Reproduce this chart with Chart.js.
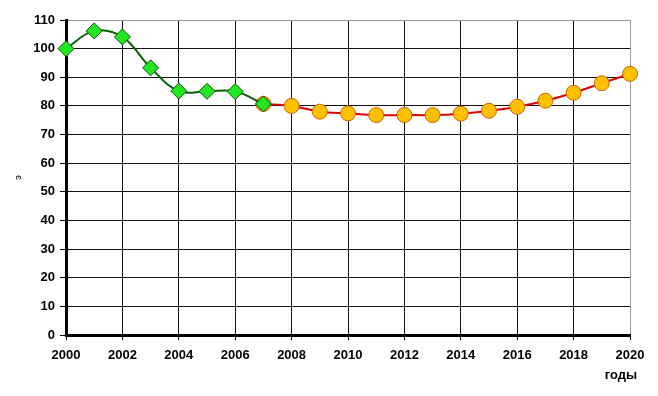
<!DOCTYPE html>
<html>
<head>
<meta charset="utf-8">
<script src="https://cdn.jsdelivr.net/npm/chart.js@4/dist/chart.umd.min.js"></script>
<style>
  html, body { margin: 0; padding: 0; background: #fff; }
  #wrap { width: 658px; height: 396px; }
</style>
</head>
<body>
<div id="wrap"><canvas id="demoChart"></canvas></div>
<script>
// actual values (green) and forecast (orange)
var actualYears = [2000, 2001, 2002, 2003, 2004, 2005, 2006, 2007];
var actualValues = [100, 106.2, 104.1, 93.3, 85.2, 85.1, 85.0, 80.7];
var forecastYears = [2007, 2008, 2009, 2010, 2011, 2012, 2013, 2014, 2015, 2016, 2017, 2018, 2019, 2020];
var forecastValues = [80.7, 80.0, 78.0, 77.4, 76.8, 76.8, 76.8, 77.3, 78.3, 79.7, 81.8, 84.6, 87.9, 91.2];
var xTicks = [2000, 2002, 2004, 2006, 2008, 2010, 2012, 2014, 2016, 2018, 2020];
var yTicks = [0, 10, 20, 30, 40, 50, 60, 70, 80, 90, 100, 110];
var xTitle = 'годы';

function toPoints(xs, ys) {
  return xs.map(function (x, i) { return { x: x, y: ys[i] }; });
}

var boldFont = { family: 'Liberation Sans, Arial, sans-serif', size: 13, weight: 'bold' };

// x axis caption sits a bit past the right end of the axis
var xCaption = {
  id: 'xCaption',
  afterDraw: function (chart) {
    var c = chart.ctx;
    var area = chart.chartArea;
    c.save();
    c.font = 'bold 13px "Liberation Sans", Arial, sans-serif';
    c.fillStyle = '#000';
    c.textAlign = 'right';
    c.textBaseline = 'middle';
    c.fillText(xTitle, area.right + 7, 375);
    c.restore();
  }
};

var ctx = document.getElementById('demoChart').getContext('2d');
var chart = new Chart(ctx, {
  type: 'line',
  data: {
    datasets: [{
      label: 'actual',
      data: toPoints(actualYears, actualValues),
      borderColor: '#0b5e0b',
      borderWidth: 2,
      tension: 0.4,
      pointStyle: 'rectRot',
      pointRadius: 8,
      pointBackgroundColor: '#22e622',
      pointBorderColor: '#0d4f0d',
      pointBorderWidth: 1,
      clip: false,
      order: 1
    }, {
      label: 'forecast',
      data: toPoints(forecastYears, forecastValues),
      borderColor: '#e00000',
      borderWidth: 2,
      tension: 0.3,
      pointStyle: 'circle',
      pointRadius: 7.5,
      pointBackgroundColor: '#ffc000',
      pointBorderColor: '#d0620a',
      pointBorderWidth: 1,
      clip: false,
      order: 2
    }]
  },
  options: {
    responsive: true,
    maintainAspectRatio: false,
    animation: false,
    layout: { padding: { top: 20, right: 28, left: 0, bottom: 0 } },
    plugins: {
      legend: { display: false },
      tooltip: { enabled: false }
    },
    scales: {
      x: {
        type: 'linear',
        min: 2000,
        max: 2020,
        afterBuildTicks: function (s) { s.ticks = xTicks.map(function (v) { return { value: v }; }); },
        afterFit: function (s) { s.height = 61; },
        ticks: {
          color: '#000',
          font: boldFont,
          padding: 8,
          maxRotation: 0,
          callback: function (v) { return String(v); }
        },
        grid: {
          color: function (c) { return c.tick && c.tick.value === 2020 ? '#9a9a9a' : '#111'; },
          tickColor: '#000',
          lineWidth: 1,
          tickLength: 5
        },
        border: { display: true, color: '#000', width: 3 }
      },
      y: {
        min: 0,
        max: 110,
        afterBuildTicks: function (s) { s.ticks = yTicks.map(function (v) { return { value: v }; }); },
        afterFit: function (s) { s.width = 66; },
        ticks: {
          color: '#000',
          font: boldFont,
          padding: 5
        },
        grid: {
          color: function (c) { return c.tick && c.tick.value === 110 ? '#9a9a9a' : '#111'; },
          tickColor: '#000',
          lineWidth: 1,
          tickLength: 6
        },
        border: { display: true, color: '#000', width: 3 },
        title: {
          display: true,
          text: 'э',
          color: '#000',
          font: { family: 'Liberation Sans, Arial, sans-serif', size: 9 },
          padding: { top: 13, bottom: 0 }
        }
      }
    }
  },
  plugins: [xCaption]
});
</script>
</body>
</html>
